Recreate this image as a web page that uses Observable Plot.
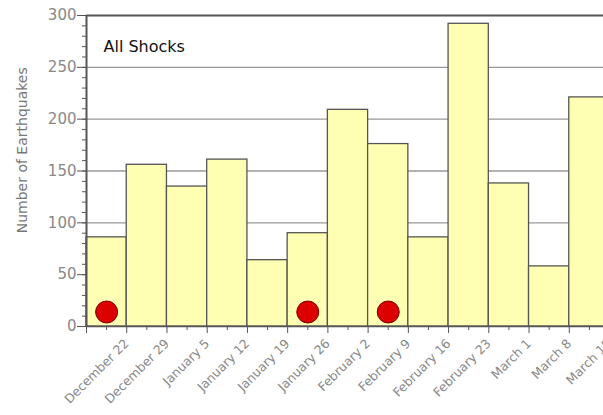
<!DOCTYPE html>
<html>
<head>
<meta charset="utf-8">
<script src="https://cdn.jsdelivr.net/npm/d3@7"></script>
<script src="https://cdn.jsdelivr.net/npm/@observablehq/plot@0.6"></script>
<style>
  html, body { margin: 0; padding: 0; background: white; overflow: hidden; }
</style>
</head>
<body>
<div id="chart"></div>
<script>
// Week-boundary tick labels (labels sit at the right edge of each weekly bar)
const weekLabels = ["December 22","December 29","January 5","January 12","January 19","January 26",
  "February 2","February 9","February 16","February 23","March 1","March 8","March 15"];
// Number of earthquakes per week
const counts = [86, 156, 135, 161, 64, 90, 209, 176, 86, 292, 138, 58, 221];
// Weeks flagged with a red marker
const markedWeeks = [0, 5, 7];
const markerLevel = 14;

const bars = counts.map((v, i) => ({i, v}));
const marks = markedWeeks.map(i => ({i}));

const chart = Plot.plot({
  width: 620,
  height: 415,
  marginLeft: 86,
  marginRight: 11,
  marginTop: 15,
  marginBottom: 89,
  style: "max-width:none; font-family:'DejaVu Sans', sans-serif; background:white;",
  x: {type: "linear", domain: [0, 13], axis: null},
  y: {domain: [0, 300], axis: null},
  marks: [
    Plot.gridY([50, 100, 150, 200, 250], {stroke: "#999", strokeOpacity: 1, strokeWidth: 1.3}),
    Plot.rect(bars, {x1: "i", x2: d => d.i + 1, y1: 0, y2: "v", fill: "#ffffb3", stroke: "#555", strokeWidth: 1.3}),
    Plot.dot(marks, {x: d => d.i + 0.5, y: markerLevel, r: 11, fill: "#dd0000", stroke: "#7a0000", strokeWidth: 1}),
    Plot.ruleY([300], {stroke: "#555", strokeWidth: 2}),
    Plot.ruleY([0], {stroke: "#555", strokeWidth: 1.5}),
    Plot.ruleX([0], {stroke: "#555", strokeWidth: 2}),
    // y axis
    Plot.axisY(d3.range(0, 301, 10), {tickSize: 4, text: null, stroke: "#555", label: null}),
    Plot.axisY(d3.range(0, 301, 50), {tickSize: 9, tickPadding: 1, fontSize: 15, fill: "#888", stroke: "#555", label: null, style: "letter-spacing:1.5px"}),
    // x axis
    Plot.axisX(d3.range(0.5, 13, 1), {tickSize: 4, text: null, stroke: "#555", label: null}),
    Plot.axisX(d3.range(0, 14, 1), {tickSize: 7, text: null, stroke: "#555", label: null}),
    Plot.axisX(d3.range(1, 14, 1), {tickSize: 0, tickPadding: 15, tickRotate: -45, fontSize: 12.5, fill: "#888",
      tickFormat: k => weekLabels[k - 1], label: null}),
    // titles
    Plot.text(["Number of Earthquakes"], {x: [-1.6], y: [170], rotate: -90, fontSize: 14, fill: "#777"}),
    Plot.text(["All Shocks"], {frameAnchor: "top-left", dx: 17, dy: 25, fontSize: 16, fill: "#111", textAnchor: "start", style: "letter-spacing:0.8px"})
  ]
});
document.getElementById("chart").appendChild(chart);
</script>
</body>
</html>
